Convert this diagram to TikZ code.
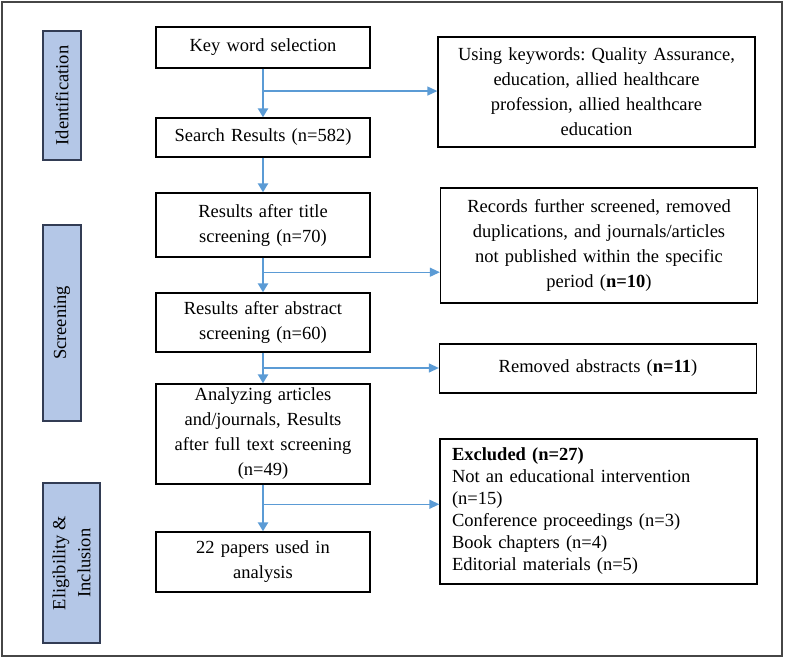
\documentclass[tikz,border=0pt]{standalone}
\usepackage{fontspec}
\setmainfont{Liberation Serif}
\usetikzlibrary{arrows.meta,calc}
\definecolor{arrowblue}{RGB}{91,155,213}
\definecolor{phasefill}{RGB}{180,199,231}
\definecolor{phasedraw}{RGB}{50,60,84}
\definecolor{framegray}{RGB}{70,70,70}
\frenchspacing
\begin{document}
\begin{tikzpicture}[x=1pt, y=-1pt,
    every node/.style={font=\fontsize{18.5}{25}\selectfont},
    flowbox/.style={draw, line width=1.3pt, inner sep=0pt, align=center, minimum width=214pt, text width=210pt},
    sidebox/.style={draw, line width=1.3pt, inner sep=0pt, align=center, text width=312pt, minimum width=317pt},
    phase/.style={draw=phasedraw, fill=phasefill, line width=1.3pt, rotate=90, inner sep=0pt, align=center},
    mainarrow/.style={->, >={Triangle[length=9pt,width=10pt]}, draw=arrowblue, line width=2.4pt},
    branch/.style={->, >={Triangle[length=10pt,width=9pt]}, draw=arrowblue, line width=1.3pt}]
    \useasboundingbox (0,0) rectangle (787,658);
    % outer frame
    \draw[framegray, line width=2pt] (2,2) rectangle (782,656);

    % phases
    \node[phase, minimum width=129pt, minimum height=38pt] (ident) at (62,95.5) {Identification};
    \node[phase, minimum width=196pt, minimum height=38pt] (screen) at (62,323) {Screening};
    \node[phase, minimum width=160pt, minimum height=57pt] (elig) at (71.5,563) {Eligibility \&\\Inclusion};

    % main column
    \node[flowbox, minimum height=41pt] (kw) at (263,47.5) {Key word selection};
    \node[flowbox, minimum height=39pt] (sr) at (263,137.5) {Search Results (n=582)};
    \node[flowbox, minimum height=64pt] (ts) at (263,225) {Results after title\\screening (n=70)};
    \node[flowbox, minimum height=59pt] (as) at (263,322.5) {Results after abstract\\screening (n=60)};
    \node[flowbox, minimum height=100pt] (ft) at (263,434) {Analyzing articles\\and/journals, Results\\after full text screening\\(n=49)};
    \node[flowbox, minimum height=60pt] (incl) at (263,562) {22 papers used in\\analysis};

    % side column
    \node[sidebox, minimum height=110pt] (kwords) at (596.5,92) {Using keywords: Quality Assurance,\\education, allied healthcare\\profession, allied healthcare\\education};
    \node[sidebox, minimum height=115pt] (dupl) at (599,245.5) {Records further screened, removed\\duplications, and journals/articles\\not published within the specific\\period (\textbf{n=10})};
    \node[sidebox, minimum height=49pt] (remabs) at (598,368.5) {Removed abstracts (\textbf{n=11})\\[4pt]};
    \node[sidebox, minimum height=145pt, align=left, text width=293pt, font=\fontsize{18.5}{22}\selectfont] (excl) at (598.5,511.5) {\textbf{Excluded (n=27)}\\Not an educational intervention\\(n=15)\\Conference proceedings (n=3)\\Book chapters (n=4)\\Editorial materials (n=5)};

    % flow
    \draw[mainarrow] (kw) -- (sr);
    \draw[mainarrow] (sr) -- (ts);
    \draw[mainarrow] (ts) -- (as);
    \draw[mainarrow] (as) -- (ft);
    \draw[mainarrow] (ft) -- (incl);

    % branches
    \coordinate (b1) at ($(kw.south)!0.46!(sr.north)$);
    \coordinate (b2) at ($(ts.south)!0.42!(as.north)$);
    \coordinate (b3) at ($(as.south)!0.5!(ft.north)$);
    \coordinate (b4) at ($(ft.south)!0.42!(incl.north)$);
    \draw[branch] (b1) -- (b1 -| kwords.west);
    \draw[branch] (b2) -- (b2 -| dupl.west);
    \draw[branch] (b3) -- (b3 -| remabs.west);
    \draw[branch] (b4) -- (b4 -| excl.west);
\end{tikzpicture}
\end{document}
